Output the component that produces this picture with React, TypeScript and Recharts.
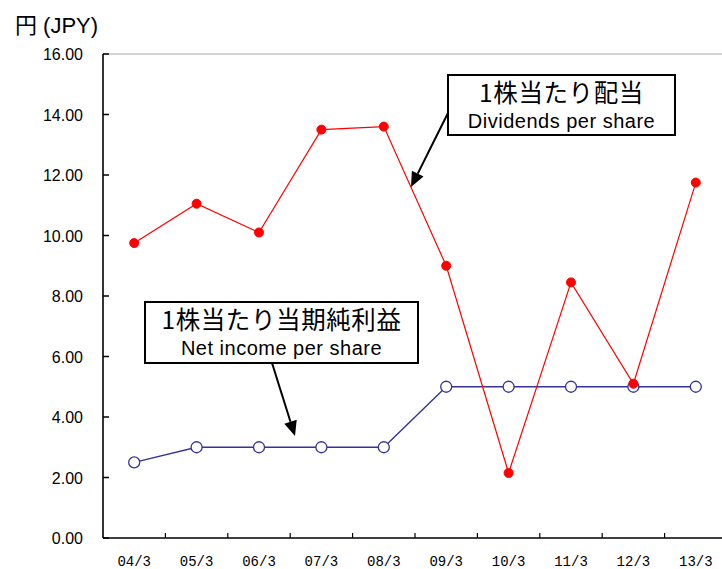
import React from 'react';
import { LineChart, Line, XAxis, YAxis, ReferenceLine } from 'recharts';

// fiscal year ends (March)
const periods = ['04/3', '05/3', '06/3', '07/3', '08/3', '09/3', '10/3', '11/3', '12/3', '13/3'];
// 1株当たり配当 (yen)
const dividendsPerShare = [9.75, 11.05, 10.1, 13.5, 13.6, 9.0, 2.15, 8.45, 5.1, 11.75];
// 1株当たり当期純利益 (yen)
const netIncomePerShare = [2.5, 3.0, 3.0, 3.0, 3.0, 5.0, 5.0, 5.0, 5.0, 5.0];
const yTicks = [0, 2, 4, 6, 8, 10, 12, 14, 16];

const data = periods.map((period, i) => ({
  period,
  dividends: dividendsPerShare[i],
  netIncome: netIncomePerShare[i],
}));

const HALF_BAND = 31.2;
const SANS = '"Liberation Sans", Arial, "Noto Sans CJK JP", sans-serif';
const JP = '"Noto Sans CJK JP", sans-serif';

const YTick = (props: any) => {
  const { x, y, payload } = props;
  return (
    <g>
      <line x1={x} x2={x + 6} y1={y} y2={y} stroke="#000" strokeWidth={1.5} />
      <text x={x - 20} y={y + 6} textAnchor="end" fontSize={16} fontFamily={SANS} fill="#000">
        {Number(payload.value).toFixed(2)}
      </text>
    </g>
  );
};

const XTick = (props: any) => {
  const { x, y, payload, index } = props;
  return (
    <g>
      {index > 0 && (
        <line x1={x - HALF_BAND} x2={x - HALF_BAND} y1={y} y2={y - 5} stroke="#000" strokeWidth={1.2} />
      )}
      <text x={x} y={y + 28} textAnchor="middle" fontSize={14} fontFamily='"Liberation Mono", monospace' fill="#000">
        {payload.value}
      </text>
    </g>
  );
};

const Arrow = ({ from, to }: { from: [number, number]; to: [number, number] }) => {
  const dx = to[0] - from[0];
  const dy = to[1] - from[1];
  const len = Math.sqrt(dx * dx + dy * dy);
  const ux = dx / len;
  const uy = dy / len;
  const bx = to[0] - ux * 15;
  const by = to[1] - uy * 15;
  const nx = -uy * 6.5;
  const ny = ux * 6.5;
  return (
    <g>
      <line x1={from[0]} y1={from[1]} x2={bx} y2={by} stroke="#000" strokeWidth={2} />
      <polygon points={`${to[0]},${to[1]} ${bx + nx},${by + ny} ${bx - nx},${by - ny}`} fill="#000" />
    </g>
  );
};

const Callout = ({ x, y, w, h, jp, en }: { x: number; y: number; w: number; h: number; jp: string; en: string }) => (
  <g>
    <rect x={x} y={y} width={w} height={h} fill="#fff" stroke="#000" strokeWidth={2} />
    <text x={x + w / 2} y={y + 27} textAnchor="middle" fontSize={24.5} letterSpacing={0.6} fontFamily={JP} fill="#000">
      {jp}
    </text>
    <text x={x + w / 2} y={y + 53} textAnchor="middle" fontSize={20} letterSpacing={0.5} fontFamily={SANS} fill="#000">
      {en}
    </text>
  </g>
);

export default function App() {
  return (
    <div style={{ position: 'absolute', left: 0, top: 0, width: 722, height: 569, overflow: 'hidden', background: '#fff' }}>
      <LineChart width={730} height={569} data={data} margin={{ top: 54, right: 3, bottom: 0, left: 13 }}>
        <XAxis
          dataKey="period"
          height={31}
          padding={{ left: HALF_BAND, right: HALF_BAND }}
          axisLine={{ stroke: '#000', strokeWidth: 1.6 }}
          tickLine={false}
          tickSize={0}
          tickMargin={0}
          interval={0}
          tick={<XTick />}
        />
        <YAxis
          width={90}
          domain={[0, 16]}
          ticks={yTicks}
          axisLine={{ stroke: '#000', strokeWidth: 1.6 }}
          tickLine={false}
          tickSize={0}
          tickMargin={0}
          tick={<YTick />}
        />
        <ReferenceLine y={16} stroke="#a6a6a6" strokeWidth={1} />
        <Line
          type="linear"
          dataKey="netIncome"
          stroke="#333399"
          strokeWidth={1.3}
          dot={{ r: 5.5, fill: '#fff', stroke: '#333399', strokeWidth: 1.3 }}
          isAnimationActive={false}
        />
        <Line
          type="linear"
          dataKey="dividends"
          stroke="#ff0000"
          strokeWidth={1.2}
          dot={{ r: 4.5, fill: '#ff0000', stroke: '#ff0000', strokeWidth: 1 }}
          isAnimationActive={false}
        />
      </LineChart>
      <svg width={722} height={569} style={{ position: 'absolute', left: 0, top: 0, pointerEvents: 'none' }}>
        <text x={15} y={33} fontSize={22} fontFamily={SANS} fill="#000">円 (JPY)</text>
        <Callout x={448} y={75} w={227} h={60} jp="1株当たり配当" en="Dividends per share" />
        <Arrow from={[448, 113]} to={[411, 187]} />
        <Callout x={145} y={302} w={273} h={61} jp="1株当たり当期純利益" en="Net income per share" />
        <Arrow from={[272, 363]} to={[295, 436]} />
      </svg>
    </div>
  );
}
